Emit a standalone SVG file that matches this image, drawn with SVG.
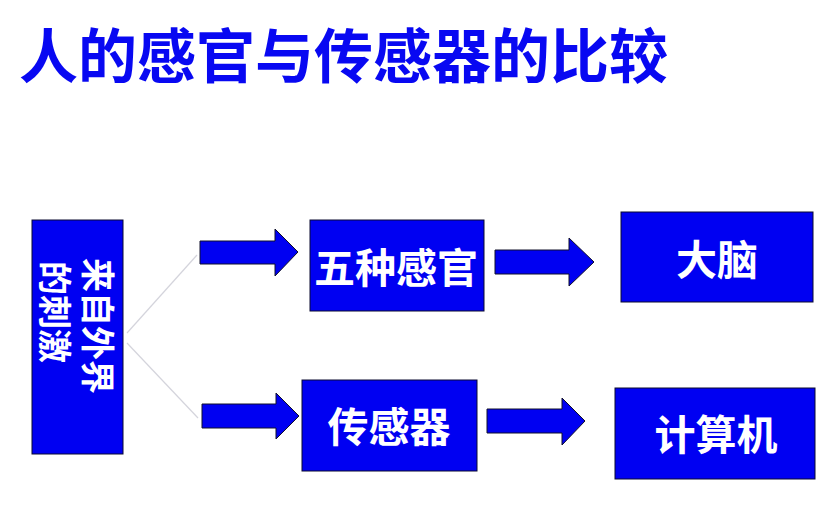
<svg xmlns="http://www.w3.org/2000/svg" width="836" height="523" viewBox="0 0 836 523">
  <style>
    .box { fill: #0000F2; stroke: #0a0a30; stroke-width: 1; }
    .lbl { font-family: "Noto Sans CJK SC", "Noto Sans", sans-serif; font-weight: bold; fill: #ffffff; text-anchor: middle; dominant-baseline: central; font-size: 41px; }
    .vlbl { font-family: "Noto Sans CJK SC", "Noto Sans", sans-serif; font-weight: bold; fill: #ffffff; text-anchor: start; dominant-baseline: central; font-size: 34px; }
    .title { font-family: "Noto Sans CJK SC", "Noto Sans", sans-serif; font-weight: bold; fill: #0808F2; font-size: 59px; }
    .arrow { fill: #0000F2; stroke: #10102a; stroke-width: 1; stroke-linejoin: miter; }
    .link { stroke: #d4d4dc; stroke-width: 1.2; fill: none; }
  </style>
  <rect width="836" height="523" fill="#ffffff"/>
  <text class="title" x="19" y="78">人的感官与传感器的比较</text>

  <g id="connectors">
    <line class="link" x1="127" y1="333" x2="197" y2="255"/>
    <line class="link" x1="127" y1="343" x2="198" y2="418"/>
    <polygon class="arrow" points="200,241 275,241 275,229 298,252 275,276 275,264 200,264"/>
    <polygon class="arrow" points="202,404 276,404 276,393 299,416 276,439 276,428 202,428"/>
    <polygon class="arrow" points="495,250 569,250 569,238 594,262 569,286 569,274 495,274"/>
    <polygon class="arrow" points="487,409 562,409 562,398 585,421 562,445 562,433 487,433"/>
  </g>

  <g id="stimulus">
    <rect class="box" x="32" y="220" width="91" height="234"/>
    <text class="vlbl" transform="translate(99,258) rotate(90)">来自外界</text>
    <text class="vlbl" transform="translate(56,261) rotate(90)">的刺激</text>
  </g>

  <g id="senses">
    <rect class="box" x="310" y="220" width="174" height="91"/>
    <text class="lbl" x="396" y="265">五种感官</text>
  </g>

  <g id="brain">
    <rect class="box" x="621" y="212" width="192" height="90"/>
    <text class="lbl" x="717" y="257">大脑</text>
  </g>

  <g id="sensor">
    <rect class="box" x="302" y="380" width="175" height="91"/>
    <text class="lbl" x="389" y="424">传感器</text>
  </g>

  <g id="computer">
    <rect class="box" x="615" y="388" width="200" height="91"/>
    <text class="lbl" x="716" y="432">计算机</text>
  </g>
</svg>
